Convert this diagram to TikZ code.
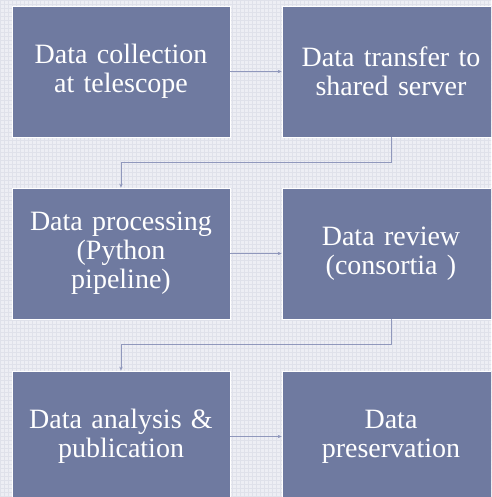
\documentclass[tikz,border=0pt]{standalone}
\usepackage{fontspec}
\setmainfont{Liberation Serif}
\newfontfamily\stagefont{Liberation Serif}
\usetikzlibrary{arrows.meta}
\definecolor{boxfill}{HTML}{6F7AA0}
\definecolor{bgcol}{HTML}{EDEEF4}
\definecolor{bggrid}{HTML}{DFE1EA}
\definecolor{linecol}{HTML}{9098BC}
\tikzset{
  stage/.style={rectangle, fill=boxfill, draw=white, line width=0.8pt,
    minimum width=218pt, minimum height=131pt, inner sep=0pt,
    text=white, align=center, text width=210pt,
    font=\stagefont\fontsize{28}{29}\selectfont},
  flow/.style={draw=linecol, line width=0.9pt,
    -{Stealth[length=4pt,width=3.5pt]}}
}
\begin{document}
\begin{tikzpicture}[x=1pt,y=-1pt]
\useasboundingbox (0,0) rectangle (491,497);
\clip (0,0) rectangle (491,497);
\fill[bgcol] (0,0) rectangle (491,497);
\draw[bggrid, line width=0.5pt, step=4pt] (0,0) grid (492,498);
\node[stage] (s1) at (121,71.5) {Data collection\\at telescope};
\node[stage] (s2) at (391,71.5) {Data transfer to\\shared server};
\node[stage] (s3) at (121,253.5) {Data processing\\(Python\\pipeline)};
\node[stage] (s4) at (391,253.5) {Data review\\(consortia )};
\node[stage] (s5) at (121,436.5) {Data analysis \&\\publication};
\node[stage] (s6) at (391,436.5) {Data\\preservation};
\draw[flow] (s1.east) -- (s2.west);
\draw[flow] (s2.south) -- ++(0,25) -| (s3.north);
\draw[flow] (s3.east) -- (s4.west);
\draw[flow] (s4.south) -- ++(0,25) -| (s5.north);
\draw[flow] (s5.east) -- (s6.west);
\end{tikzpicture}
\end{document}
